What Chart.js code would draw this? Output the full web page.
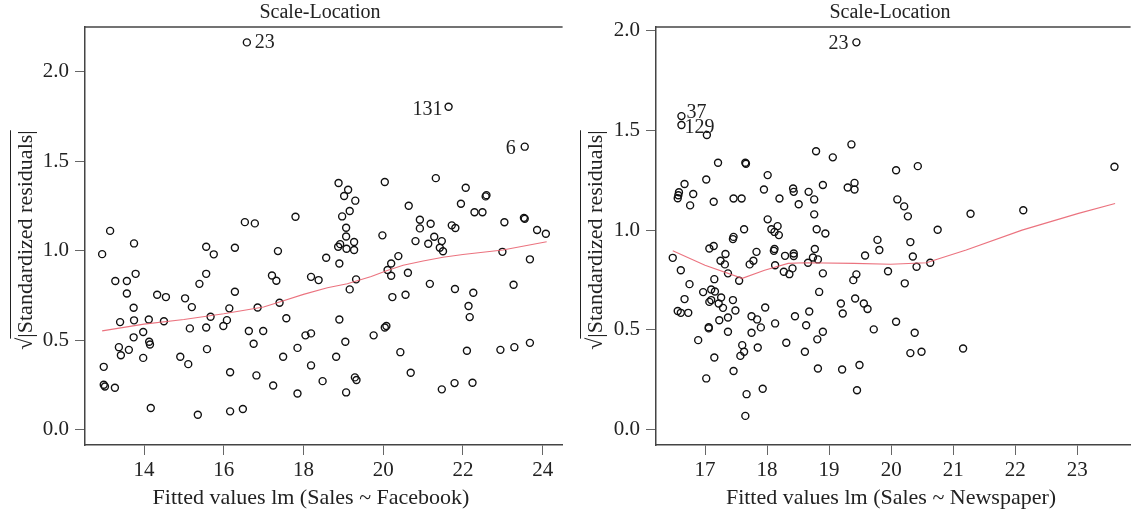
<!DOCTYPE html>
<html><head><meta charset="utf-8">
<script src="https://cdn.jsdelivr.net/npm/chart.js@4.4.1/dist/chart.umd.min.js"></script>
<style>
html,body{margin:0;padding:0;background:#fff;}
#wrap{position:relative;width:1136px;height:513px;overflow:hidden;}
canvas{position:absolute;top:0;}
</style></head><body>
<div id="wrap"><canvas id="c1" width="568" height="513" style="left:0"></canvas><canvas id="c2" width="568" height="513" style="left:568px"></canvas></div>
<script>
// ---------- Left panel: Sales ~ Facebook ----------
const fbFitted = [13.15,12.95,13.75,13.28,13.57,13.79,13.57,13.74,13.40,13.75,14.12,14.50,13.98,13.74,14.13,14.15,13.37,13.42,13.62,13.98,12.99,12.99,13.02,13.27,14.17,14.33,14.55,15.03,15.20,15.39,15.56,15.56,15.75,16.28,16.53,16.78,17.80,17.36,18.57,16.28,16.14,15.67,15.56,15.15,16.08,15.99,16.85,17.40,17.21,17.32,18.19,18.38,17.57,16.63,16.99,16.75,18.05,18.19,17.85,17.49,18.19,18.48,15.58,14.91,15.11,16.16,16.82,17.24,17.85,15.35,16.16,16.48,
18.88,19.12,19.02,19.30,19.16,18.97,19.07,19.07,19.27,18.92,18.87,19.08,19.27,18.90,20.04,19.98,19.32,19.16,18.90,19.05,18.82,19.29,19.33,19.07,19.76,20.04,20.08,20.43,20.69,20.23,20.56,20.20,20.20,20.38,20.11,20.62,20.64,20.92,20.92,21.19,20.81,21.13,21.28,21.47,21.42,21.50,21.32,22.07,21.95,22.29,22.49,22.57,22.59,21.72,21.81,23.04,23.53,23.55,23.86,24.08,22.99,23.68,21.17,21.80,22.26,23.27,22.14,22.17,22.10,22.94,23.29,23.68,21.47,21.79,22.24];
const fbResid = [1.11,0.98,1.04,0.83,0.83,0.87,0.76,0.68,0.60,0.61,0.615,0.605,0.545,0.515,0.49,0.475,0.46,0.415,0.445,0.40,0.35,0.25,0.24,0.233,0.12,0.753,0.74,0.733,0.684,0.814,0.87,1.021,0.979,1.016,1.159,1.152,1.189,0.997,0.96,0.77,0.677,0.63,0.57,0.565,0.611,0.578,0.682,0.708,0.861,0.831,0.853,0.835,0.622,0.55,0.55,0.479,0.526,0.537,0.456,0.406,0.358,0.27,0.449,0.406,0.365,0.32,0.302,0.246,0.201,0.082,0.101,0.114,
1.378,1.34,1.305,1.279,1.221,1.191,1.128,1.079,1.048,1.036,1.021,1.01,1.003,0.928,1.383,1.085,0.839,0.783,0.615,0.49,0.406,0.291,0.276,0.207,0.526,0.57,0.578,0.432,0.317,0.74,0.753,0.859,0.928,0.969,0.891,0.876,1.251,1.172,1.124,1.15,1.053,1.038,1.077,1.053,1.016,0.996,1.405,1.351,1.262,1.214,1.214,1.303,1.31,1.141,1.126,1.158,1.183,1.178,1.115,1.094,0.993,0.951,0.814,0.785,0.764,0.809,0.69,0.628,0.44,0.445,0.46,0.484,0.224,0.259,0.261];
const fbOutFitted = [16.58, 21.64, 23.55];
const fbOutResid = [2.164, 1.804, 1.581];
const fbOutLabels = ['23', '131', '6'];
const fbSmoothX = [12.95,14,15,16,17,17.4,18,18.6,19.1,19.7,20.1,20.5,21,21.5,22,23,24.1];
const fbSmoothY = [0.551,0.589,0.615,0.647,0.685,0.713,0.755,0.792,0.815,0.855,0.889,0.918,0.942,0.963,0.978,1.003,1.049];
const fbXTicks = [14,16,18,20,22,24];
const yTicks = [0,0.5,1.0,1.5,2.0];

// ---------- Right panel: Sales ~ Newspaper ----------
const npFitted = [18.79,19.06,19.36,17.21,17.65,17.66,17.02,18.01,16.67,16.58,16.57,16.56,16.81,16.76,17.14,17.46,17.59,17.95,18.20,18.42,18.43,18.51,18.67,18.76,18.90,19.30,19.41,19.41,18.76,18.80,18.94,18.01,18.07,18.12,18.17,18.19,17.63,17.46,17.45,17.07,17.14,17.33,17.25,17.32,16.48,16.61,17.37,17.55,17.15,17.83,17.78,17.72,18.11,18.12,18.13,18.29,18.43,18.43,18.27,18.36,18.41,18.66,18.74,18.77,18.82,18.90,18.84,16.75,16.67,16.97,17.10,17.16,17.07,17.10,17.26,17.22,17.29,17.45,17.49,16.56,16.61,16.73,17.23,17.37,17.06,17.06,17.37,16.89,17.75,17.84,17.90,17.75,17.97,18.13,18.45,18.68,18.63,18.90,18.81,18.31,18.61,17.60,17.63,17.57,17.85,17.15,17.46,18.82,19.21,17.02,17.93,17.67,17.65,19.19,19.22,17.03,
20.08,20.43,20.10,20.21,20.27,21.28,22.13,23.60,20.75,19.78,19.81,20.31,20.35,19.58,20.41,20.63,19.95,19.44,19.39,20.22,19.42,19.56,19.62,20.08,19.72,20.38,20.31,20.49,21.16,19.49,19.45];
const npResid = [1.396,1.365,1.43,1.338,1.338,1.333,1.254,1.276,1.231,1.19,1.175,1.16,1.181,1.124,1.142,1.159,1.159,1.204,1.159,1.209,1.192,1.13,1.192,1.154,1.226,1.214,1.237,1.204,1.079,1.004,0.983,1.054,1.004,0.991,1.02,0.975,1.004,0.966,0.955,0.908,0.92,0.88,0.846,0.828,0.861,0.799,0.783,0.746,0.754,0.891,0.846,0.828,0.896,0.905,0.824,0.871,0.883,0.87,0.791,0.779,0.808,0.836,0.863,0.905,0.853,0.783,0.69,0.729,0.654,0.689,0.702,0.692,0.64,0.649,0.662,0.632,0.61,0.649,0.597,0.594,0.585,0.585,0.548,0.562,0.513,0.507,0.49,0.448,0.568,0.552,0.512,0.485,0.612,0.532,0.568,0.592,0.523,0.49,0.452,0.435,0.39,0.423,0.39,0.369,0.411,0.361,0.293,0.306,0.301,0.256,0.204,0.177,0.068,0.632,0.582,1.477,
1.30,1.321,1.154,1.119,1.069,1.082,1.10,1.318,1.002,0.951,0.90,0.94,0.868,0.873,0.816,0.836,0.794,0.778,0.749,0.733,0.657,0.632,0.604,0.54,0.502,0.485,0.383,0.39,0.406,0.323,0.197];
const npOutFitted = [19.44, 16.62, 16.62];
const npOutResid = [1.942, 1.572, 1.527];
const npOutLabels = ['23', '37', '129'];
const npSmoothX = [16.48,17.0,17.6,17.96,18.34,18.6,19.4,19.99,20.57,20.73,21.21,22.11,23.02,23.61];
const npSmoothY = [0.896,0.824,0.758,0.799,0.833,0.836,0.833,0.829,0.836,0.853,0.90,1.0,1.084,1.134];
const npXTicks = [17,18,19,20,21,22,23];

const SERIF = '"Liberation Serif", "DejaVu Serif", serif';
const pts = (xs, ys) => xs.map((x, i) => ({x, y: ys[i]}));

const deco = {
  id: 'deco',
  afterDraw(chart, args, o) {
    const {ctx, chartArea: ca, scales} = chart;
    ctx.save();
    ctx.strokeStyle = '#444'; ctx.lineWidth = 1.5;
    ctx.beginPath(); ctx.moveTo(ca.left, ca.top); ctx.lineTo(ca.right, ca.top); ctx.stroke();
    ctx.fillStyle = '#222';
    ctx.textAlign = 'center'; ctx.textBaseline = 'alphabetic';
    ctx.font = '20px ' + SERIF;
    ctx.fillText(o.title, o.titleX, 18);
    ctx.font = '22px ' + SERIF;
    ctx.fillText(o.xTitle, o.xTitleX, 504);
    // y-axis title with radical sign
    ctx.save();
    ctx.translate(o.yTitleX, o.yTitleY);
    ctx.rotate(-Math.PI / 2);
    ctx.font = '22px ' + SERIF;
    const s = '\u221A', t = '|Standardized residuals|';
    const ws = ctx.measureText(s).width, wt = ctx.measureText(t).width;
    const x0 = -(ws + wt) / 2;
    ctx.textAlign = 'left';
    ctx.fillText(s, x0, 0);
    ctx.fillText(t, x0 + ws, 0);
    ctx.strokeStyle = '#222'; ctx.lineWidth = 1;
    ctx.beginPath(); ctx.moveTo(x0 + ws - 1, -21); ctx.lineTo(x0 + ws + wt, -21); ctx.stroke();
    ctx.restore();
    // point labels
    ctx.font = '20px ' + SERIF;
    o.labels.forEach(l => {
      const px = scales.x.getPixelForValue(l.x), py = scales.y.getPixelForValue(l.y);
      ctx.textAlign = l.align;
      ctx.fillText(l.text, px + l.dx, py + l.dy);
    });
    ctx.restore();
  }
};

function axis(min, max, tickVals, fmt, isY, w) {
  return {
    type: 'linear', min, max,
    afterBuildTicks: a => { a.ticks = tickVals.map(v => ({value: v})); },
    afterFit: s => { if (isY) s.width = w; else s.height = 68; },
    grid: {display: true, drawOnChartArea: false, drawTicks: true, tickLength: 10, color: '#666', lineWidth: 1},
    border: {display: true, color: '#444', width: 1.5},
    ticks: {font: {family: SERIF, size: 21}, color: '#222', padding: isY ? 6 : 3, maxRotation: 0, autoSkip: false, callback: fmt}
  };
}

function makeChart(id, cfg) {
  const labels = cfg.outX.map((x, i) => Object.assign({x, y: cfg.outY[i], text: cfg.outLabels[i]}, cfg.labelPos[i]));
  new Chart(document.getElementById(id), {
    type: 'scatter',
    data: {
      datasets: [
        {data: pts(cfg.smX, cfg.smY), type: 'line', showLine: true, borderColor: 'rgba(232,90,105,0.85)', borderWidth: 1.1, pointRadius: 0, tension: 0, fill: false},
        {data: pts(cfg.x, cfg.y).concat(pts(cfg.outX, cfg.outY)), pointStyle: 'circle', pointRadius: 3.5, pointBorderWidth: 1.4, borderColor: '#111', backgroundColor: 'rgba(0,0,0,0)', pointBackgroundColor: 'rgba(0,0,0,0)', pointBorderColor: '#111'}
      ]
    },
    options: {
      responsive: false, animation: false,
      layout: {padding: {top: 27, right: cfg.padRight, left: 0, bottom: 0}},
      plugins: {legend: {display: false}, tooltip: {enabled: false},
        deco: {title: 'Scale-Location', titleX: cfg.titleX, xTitle: cfg.xTitle, xTitleX: cfg.xTitleX, yTitleX: cfg.yTitleX, yTitleY: 240, labels}},
      scales: {
        x: axis(cfg.xMin, cfg.xMax, cfg.xTicks, v => String(v), false),
        y: axis(cfg.yMin, cfg.yMax, yTicks, v => Number(v).toFixed(1), true, cfg.yW)
      }
    },
    plugins: [deco]
  });
}

makeChart('c1', {
  x: fbFitted, y: fbResid, outX: fbOutFitted, outY: fbOutResid, outLabels: fbOutLabels,
  labelPos: [{align: 'left', dx: 8, dy: 6}, {align: 'right', dx: -6, dy: 8}, {align: 'right', dx: -9, dy: 7}],
  smX: fbSmoothX, smY: fbSmoothY, xTicks: fbXTicks,
  xMin: 12.52, xMax: 24.5, yMin: -0.087, yMax: 2.25, yW: 85, padRight: 2,
  titleX: 320, xTitle: 'Fitted values lm (Sales ~ Facebook)', xTitleX: 311, yTitleX: 31.5
});
makeChart('c2', {
  x: npFitted, y: npResid, outX: npOutFitted, outY: npOutResid, outLabels: npOutLabels,
  labelPos: [{align: 'right', dx: -8, dy: 7}, {align: 'left', dx: 5, dy: 2}, {align: 'left', dx: 3, dy: 8}],
  smX: npSmoothX, smY: npSmoothY, xTicks: npXTicks,
  xMin: 16.21, xMax: 23.86, yMin: -0.078, yMax: 2.019, yW: 88, padRight: 0,
  titleX: 322, xTitle: 'Fitted values lm (Sales ~ Newspaper)', xTitleX: 323, yTitleX: 33.5
});
</script>
</body></html>
